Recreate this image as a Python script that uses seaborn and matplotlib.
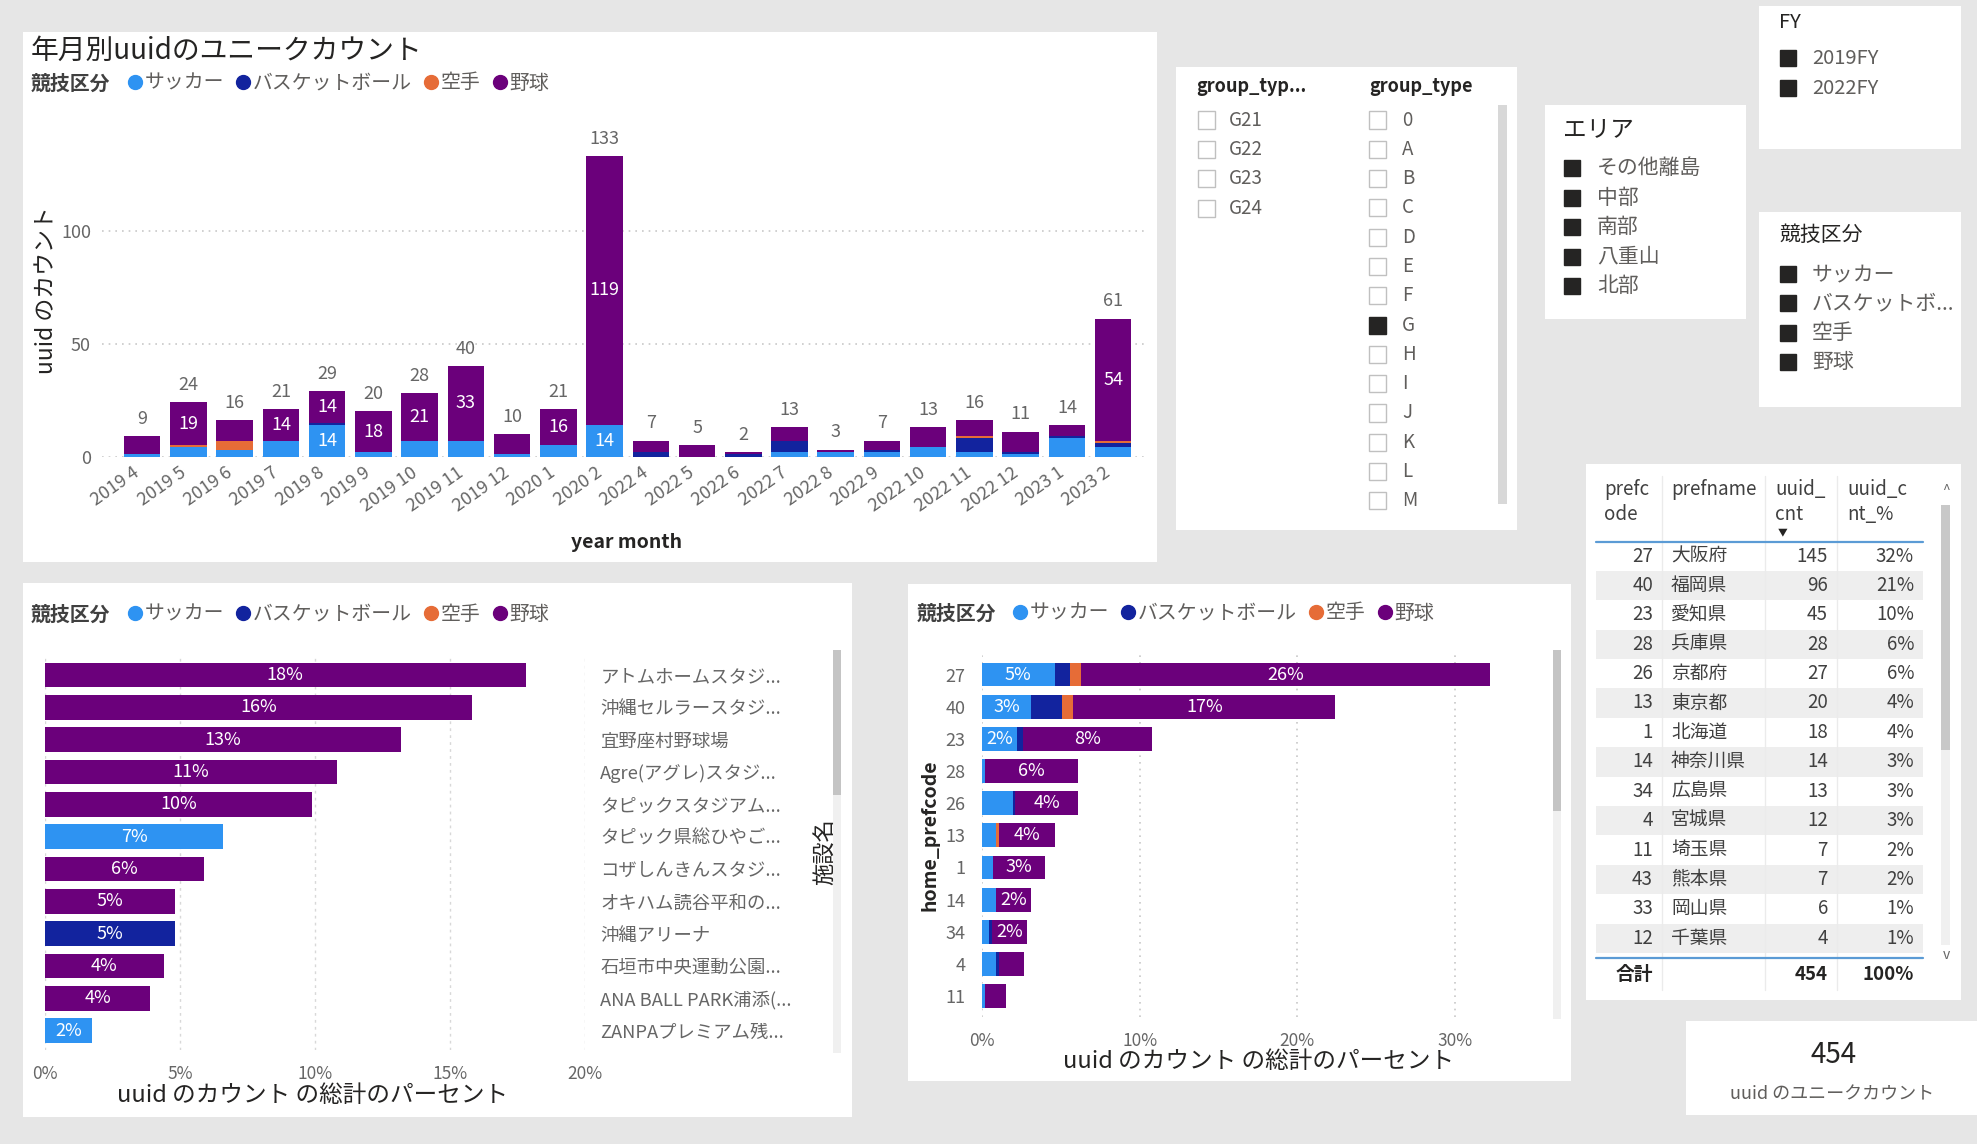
import numpy as np
import matplotlib
matplotlib.use("Agg")
import matplotlib.pyplot as plt
import seaborn as sns
from matplotlib.patches import Rectangle
from matplotlib.lines import Line2D
from matplotlib.ticker import PercentFormatter
from matplotlib.transforms import ScaledTranslation

# ---------------- data ----------------
sports = ["サッカー", "バスケットボール", "空手", "野球"]
sport_colors = ["#2E93F2", "#12239E", "#E66C37", "#6B007B"]

months = ["2019 4", "2019 5", "2019 6", "2019 7", "2019 8", "2019 9", "2019 10",
          "2019 11", "2019 12", "2020 1", "2020 2", "2022 4", "2022 5", "2022 6",
          "2022 7", "2022 8", "2022 9", "2022 10", "2022 11", "2022 12", "2023 1", "2023 2"]
soccer_m = [1, 4, 3, 7, 14, 2, 7, 7, 1, 5, 14, 0, 0, 0, 2, 2, 2, 4, 2, 1, 8, 4]
basket_m = [0, 0, 0, 0, 1, 0, 0, 0, 0, 0, 0, 2, 0, 1, 5, 0, 1, 0, 6, 1, 1, 2]
karate_m = [0, 1, 4, 0, 0, 0, 0, 0, 0, 0, 0, 0, 0, 0, 0, 0, 0, 0, 1, 0, 0, 1]
baseball_m = [8, 19, 9, 14, 14, 18, 21, 33, 9, 16, 119, 5, 5, 1, 6, 1, 4, 9, 7, 9, 5, 54]

fac_names = ["アトムホームスタジ...", "沖縄セルラースタジ...", "宜野座村野球場",
             "Agre(アグレ)スタジ...", "タピックスタジアム...", "タピック県総ひやご...",
             "コザしんきんスタジ...", "オキハム読谷平和の...", "沖縄アリーナ",
             "石垣市中央運動公園...", "ANA BALL PARK浦添(...", "ZANPAプレミアム残..."]
fac_pct = [17.8, 15.8, 13.2, 10.8, 9.9, 6.6, 5.9, 4.8, 4.8, 4.4, 3.9, 1.75]
fac_sport = ["野球", "野球", "野球", "野球", "野球", "サッカー", "野球", "野球",
             "バスケットボール", "野球", "野球", "サッカー"]

prefcodes = ["27", "40", "23", "28", "26", "13", "1", "14", "34", "4", "11"]
soccer_p = [4.6, 3.1, 2.2, 0.2, 1.95, 0.9, 0.7, 0.9, 0.45, 0.9, 0.2]
basket_p = [1.0, 2.0, 0.4, 0.0, 0.15, 0.0, 0.0, 0.0, 0.2, 0.15, 0.0]
karate_p = [0.7, 0.7, 0.0, 0.0, 0.0, 0.2, 0.0, 0.0, 0.0, 0.0, 0.0]
baseball_p = [25.9, 16.6, 8.2, 5.9, 4.0, 3.5, 3.3, 2.2, 2.2, 1.6, 1.3]

pref_codes = [27, 40, 23, 28, 26, 13, 1, 14, 34, 4, 11, 43, 33, 12]
pref_names = ["大阪府", "福岡県", "愛知県", "兵庫県", "京都府", "東京都", "北海道",
              "神奈川県", "広島県", "宮城県", "埼玉県", "熊本県", "岡山県", "千葉県"]
uuid_cnt = [145, 96, 45, 28, 27, 20, 18, 14, 13, 12, 7, 7, 6, 4]
total_uuid = 454

group_left = ["G21", "G22", "G23", "G24"]
group_right = ["0", "A", "B", "C", "D", "E", "F", "G", "H", "I", "J", "K", "L", "M"]
group_selected = "G"
areas = ["その他離島", "中部", "南部", "八重山", "北部"]
fys = ["2019FY", "2022FY"]
sport_slicer = ["サッカー", "バスケットボ...", "空手", "野球"]

# ---------------- setup ----------------
sns.set_theme(style="white")
plt.rcParams['font.family'] = ['Noto Sans CJK JP', 'DejaVu Sans']

W, H = 1977, 1144
BG = "#E6E6E6"
DARK = "#252423"
GREY = "#605E5C"
TICK = "#666666"

fig = plt.figure(figsize=(W / 100, H / 100), dpi=100, facecolor=BG)


def box(x0, y0, x1, y1):
    return [x0 / W, 1 - y1 / H, (x1 - x0) / W, (y1 - y0) / H]


def rect(x0, y0, x1, y1, fc="white", ec="none", lw=0, z=-1):
    fig.patches.append(Rectangle((x0 / W, 1 - y1 / H), (x1 - x0) / W, (y1 - y0) / H,
                                 transform=fig.transFigure, facecolor=fc,
                                 edgecolor=ec, lw=lw, zorder=z))


def ftext(x, y, s, **kw):
    kw.setdefault("va", "center")
    return fig.text(x / W, 1 - y / H, s, **kw)


def hline(x0, x1, y, color, lw=1):
    fig.lines.append(Line2D([x0 / W, x1 / W], [1 - y / H, 1 - y / H],
                            transform=fig.transFigure, color=color, lw=lw))


def vline(x, y0, y1, color, lw=1):
    fig.lines.append(Line2D([x / W, x / W], [1 - y0 / H, 1 - y1 / H],
                            transform=fig.transFigure, color=color, lw=lw, zorder=-0.5))


def sport_legend(x_title, x_dot, y):
    ftext(x_title, y, "競技区分", fontsize=14.3, fontweight="bold", color="#404040")
    handles = [Line2D([], [], marker="o", ls="", color=c, markersize=10) for c in sport_colors]
    fig.legend(handles, sports, loc="center left", bbox_to_anchor=(x_dot / W, 1 - y / H),
               ncol=4, frameon=False, handlelength=0.7, handletextpad=0.15,
               columnspacing=0.6, borderpad=0, borderaxespad=0, fontsize=14.3,
               labelcolor=GREY)


# panels
rect(23, 32, 1157, 562, z=-2)
rect(1176, 67, 1517, 530, z=-2)
rect(1545, 105, 1746, 319, z=-2)
rect(1759, 6, 1961, 149, z=-2)
rect(1759, 212, 1961, 407, z=-2)
rect(23, 583, 852, 1117, z=-2)
rect(908, 584, 1571, 1081, z=-2)
rect(1586, 464, 1961, 1000, z=-2)
rect(1686, 1021, 1977, 1115, z=-2)

# ---------------- top chart ----------------
ftext(31, 51, "年月別uuidのユニークカウント", fontsize=20, color=DARK)
sport_legend(31, 128, 83)

ax1 = fig.add_axes(box(102, 129, 1146, 456.5))
ax1.patch.set_alpha(0)
layers_m = np.array([soccer_m, basket_m, karate_m, baseball_m])
cum_m = np.cumsum(layers_m, axis=0)
for k in range(3, -1, -1):
    sns.barplot(x=months, y=cum_m[k], order=months, color=sport_colors[k], saturation=1,
                width=0.79, errorbar=None, linewidth=0, ax=ax1)
ax1.set_xlim(-0.87, 21.71)
ax1.set_ylim(0, 145)
ax1.set_yticks([0, 50, 100])
ax1.yaxis.grid(True, ls=(0, (1, 3)), color="#C8C8C8", lw=1.2)
ax1.set_axisbelow(True)
ax1.set_xlabel("")
ax1.set_ylabel("")
sns.despine(ax=ax1, left=True, bottom=True)
ax1.tick_params(axis="both", length=0, labelsize=13, labelcolor=TICK)
ax1.tick_params(axis="y", pad=8)
ax1.tick_params(axis="x", pad=5)
shift = ScaledTranslation(-7 / 72, 0, fig.dpi_scale_trans)
for lab in ax1.get_xticklabels():
    lab.set_rotation(35)
    lab.set_ha("right")
    lab.set_rotation_mode("anchor")
    lab.set_transform(lab.get_transform() + shift)

for i, t in enumerate(cum_m[3]):
    ax1.annotate(f"{t}", (i, t), xytext=(0, 6), textcoords="offset points",
                 ha="center", va="bottom", fontsize=13, color=TICK)
for k in range(4):
    lower = cum_m[k - 1] if k else np.zeros(len(months))
    for i, v in enumerate(layers_m[k]):
        if v >= 14:
            ax1.text(i, lower[i] + v / 2, f"{v}", ha="center", va="center",
                     fontsize=13, color="white")

ftext(47, 290, "uuid のカウント", rotation=90, ha="center", fontsize=16.5, color=DARK)
ftext(627, 542, "year month", ha="center", fontsize=14, fontweight="bold", color=DARK)

# ---------------- bottom left ----------------
sport_legend(31, 128, 614)
ax2 = fig.add_axes(box(45, 655.6, 585, 1050))
ax2.patch.set_alpha(0)
sns.barplot(x=fac_pct, y=fac_names, hue=fac_sport, order=fac_names,
            palette=dict(zip(sports, sport_colors)), dodge=False, legend=False,
            saturation=1, width=0.77, orient="h", linewidth=0, ax=ax2)
ax2.set_xlim(0, 20)
ax2.set_ylim(11.6, -0.6)
ax2.set_xticks([0, 5, 10, 15, 20])
ax2.xaxis.set_major_formatter(PercentFormatter(decimals=0))
ax2.xaxis.grid(True, ls=(0, (2, 3)), color="#D8D8D8", lw=1)
ax2.set_axisbelow(True)
ax2.yaxis.tick_right()
ax2.set_xlabel("")
ax2.set_ylabel("")
sns.despine(ax=ax2, left=True, bottom=True)
ax2.tick_params(axis="both", length=0, labelsize=12.5, labelcolor=TICK)
ax2.tick_params(axis="y", pad=11, labelright=True, labelleft=False, labelsize=13.2)
ax2.tick_params(axis="x", pad=11)
for i, v in enumerate(fac_pct):
    ax2.text(v / 2, i, f"{v:.0f}%", ha="center", va="center", fontsize=13, color="white")
ftext(313, 1096, "uuid のカウント の総計のパーセント", ha="center", fontsize=17, color=DARK)
ftext(826, 852, "施設名", rotation=90, ha="center", fontsize=16, color=DARK)
rect(833, 650, 841, 1053, fc="#F0F0F0")
rect(833, 650, 841, 795, fc="#C4C4C4")

# ---------------- bottom middle ----------------
sport_legend(917, 1013, 613)
ax3 = fig.add_axes(box(982, 653.6, 1541.6, 1017))
ax3.patch.set_alpha(0)
layers_p = np.array([soccer_p, basket_p, karate_p, baseball_p])
cum_p = np.cumsum(layers_p, axis=0)
for k in range(3, -1, -1):
    sns.barplot(x=cum_p[k], y=prefcodes, order=prefcodes, color=sport_colors[k],
                saturation=1, width=0.74, orient="h", errorbar=None, linewidth=0, ax=ax3)
ax3.set_xlim(0, 35.5)
ax3.set_ylim(10.65, -0.65)
ax3.set_xticks([0, 10, 20, 30])
ax3.xaxis.set_major_formatter(PercentFormatter(decimals=0))
ax3.xaxis.grid(True, ls=(0, (1, 3)), color="#C8C8C8", lw=1.2)
ax3.set_axisbelow(True)
ax3.set_xlabel("")
ax3.set_ylabel("")
sns.despine(ax=ax3, left=True, bottom=True)
ax3.tick_params(axis="both", length=0, labelsize=12.5, labelcolor=TICK)
ax3.tick_params(axis="y", pad=12, labelsize=13)
ax3.tick_params(axis="x", pad=11)
for k in range(4):
    lower = cum_p[k - 1] if k else np.zeros(len(prefcodes))
    for i, v in enumerate(layers_p[k]):
        if v >= 2.1:
            ax3.text(lower[i] + v / 2, i, f"{v:.0f}%", ha="center", va="center",
                     fontsize=13, color="white")
ftext(1259, 1061, "uuid のカウント の総計のパーセント", ha="center", fontsize=17, color=DARK)
ftext(930, 835, "home_prefcode", rotation=90, ha="center", fontsize=14,
      fontweight="bold", color=DARK)
rect(1553, 650, 1561, 1019, fc="#F0F0F0")
rect(1553, 650, 1561, 811, fc="#C4C4C4")

# ---------------- slicers ----------------
def checkbox(x, y, filled=False, size=17):
    rect(x, y - size / 2, x + size, y + size / 2,
         fc=DARK if filled else "white", ec=DARK if filled else "#C0C0C0", lw=1, z=1)


ftext(1196, 86, "group_typ...", fontsize=13, fontweight="bold", color=DARK)
ftext(1369, 86, "group_type", fontsize=13, fontweight="bold", color=DARK)
for r, g in enumerate(group_left):
    y = 120 + r * 29.4
    checkbox(1198, y)
    ftext(1229, y, g, fontsize=13.5, color=GREY)
for r, g in enumerate(group_right):
    y = 120 + r * 29.3
    checkbox(1369, y, filled=(g == group_selected))
    ftext(1402, y, g, fontsize=13.5, color=GREY)
rect(1498, 105, 1507, 504, fc="#D8D8D8")

ftext(1563, 130, "エリア", fontsize=17, color=DARK)
for r, a in enumerate(areas):
    y = 168 + r * 29.6
    checkbox(1564, y, filled=True, size=16)
    ftext(1597, y, a, fontsize=15, color=GREY)

ftext(1779, 23, "FY", fontsize=14.5, color=DARK)
for r, f in enumerate(fys):
    y = 58 + r * 30
    checkbox(1780, y, filled=True, size=16)
    ftext(1812, y, f, fontsize=14.5, color=GREY)

ftext(1779, 235, "競技区分", fontsize=15, color=DARK)
for r, s in enumerate(sport_slicer):
    y = 274 + r * 29.4
    checkbox(1780, y, filled=True, size=16)
    ftext(1812, y, s, fontsize=15, color=GREY)

# ---------------- table ----------------
row_y0, row_h = 556, 29.4
for r in range(len(pref_codes)):
    y = row_y0 + r * row_h
    if r % 2 == 1:
        rect(1596, y - row_h / 2, 1923, y + row_h / 2, fc="#EEEEEE", z=-1)
    ftext(1653, y, f"{pref_codes[r]}", ha="right", fontsize=13.5, color="#404040")
    ftext(1671, y, pref_names[r], ha="left", fontsize=13.5, color="#404040")
    ftext(1828, y, f"{uuid_cnt[r]}", ha="right", fontsize=13.5, color="#404040")
    ftext(1914, y, f"{uuid_cnt[r] / total_uuid * 100:.0f}%", ha="right", fontsize=13.5,
          color="#404040")
for xs in (1662, 1765, 1837):
    vline(xs, 476, 990, "#EBEBEB")
ftext(1604, 502, "prefc\node", ha="left", fontsize=13.5, color="#404040", linespacing=1.3)
ftext(1671, 489, "prefname", ha="left", fontsize=13.5, color="#404040")
ftext(1775, 502, "uuid_\ncnt", ha="left", fontsize=13.5, color="#404040", linespacing=1.3)
ftext(1847, 502, "uuid_c\nnt_%", ha="left", fontsize=13.5, color="#404040", linespacing=1.3)
ftext(1783, 532, "▼", ha="center", fontsize=7, color=DARK)
hline(1596, 1923, 542, "#5B9BD5", lw=1.6)
hline(1596, 1923, 958, "#5B9BD5", lw=1.6)
ftext(1653, 975, "合計", ha="right", fontsize=13.5, fontweight="bold", color=DARK)
ftext(1828, 975, f"{total_uuid}", ha="right", fontsize=13.5, fontweight="bold", color=DARK)
ftext(1914, 975, "100%", ha="right", fontsize=13.5, fontweight="bold", color=DARK)
rect(1941, 505, 1950, 945, fc="#F0F0F0")
rect(1941, 505, 1950, 750, fc="#C8C8C8")
ftext(1946, 491, "^", ha="center", fontsize=10, color=TICK)
ftext(1946, 955, "v", ha="center", fontsize=10, color=TICK)

# ---------------- card ----------------
ftext(1834, 1055, f"{total_uuid}", ha="center", fontsize=20, color=DARK)
ftext(1832, 1094, "uuid のユニークカウント", ha="center", fontsize=13, color=GREY)

fig.savefig("out.png", dpi=100, facecolor=BG)
